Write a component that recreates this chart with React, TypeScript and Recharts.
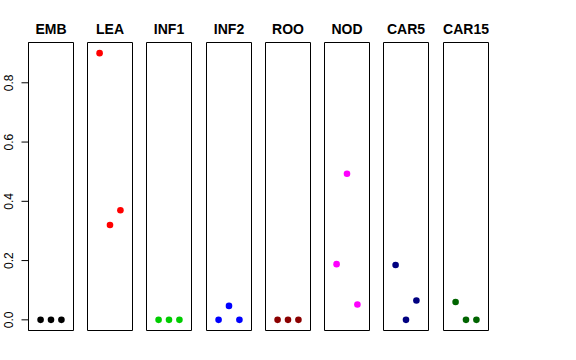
import React from 'react';
import { ScatterChart, Scatter, XAxis, YAxis, ReferenceArea, Label } from 'recharts';

const categories = ['EMB', 'LEA', 'INF1', 'INF2', 'ROO', 'NOD', 'CAR5', 'CAR15'];
const colors = ['#000000', '#FF0000', '#00CD00', '#0000FF', '#8B0000', '#FF00FF', '#000080', '#006400'];
const positions = [1, 2, 3];
const embValues = [0, 0, 0];
const leaValues = [0.9, 0.32, 0.37];
const inf1Values = [0, 0, 0];
const inf2Values = [0, 0.047, 0];
const rooValues = [0, 0, 0];
const nodValues = [0.188, 0.493, 0.052];
const car5Values = [0.185, 0, 0.065];
const car15Values = [0.06, 0, 0];
const allValues = [embValues, leaValues, inf1Values, inf2Values, rooValues, nodValues, car5Values, car15Values];
const yTicks = [0, 0.2, 0.4, 0.6, 0.8];

const X_DOMAIN: [number, number] = [-0.16, 4.16];
const Y_DOMAIN: [number, number] = [-0.036, 0.936];

const PLOT_LEFT = 28.3;
const PITCH = 59.25;
const PANEL_W = 45;
const CHART_H = 340;
const TOP = 42.5;
const BOTTOM = 330.5;
const FONT = '"Liberation Sans", Arial, Helvetica, sans-serif';

const YTick = (props: any) => {
  const { y, payload } = props;
  const x = 13.3;
  return (
    <text
      x={x}
      y={y}
      transform={`rotate(-90, ${x}, ${y})`}
      textAnchor="middle"
      fontSize={12}
      fontFamily={FONT}
      fill="#000"
    >
      {payload.value.toFixed(1)}
    </text>
  );
};

function Panel({ index }: { index: number }) {
  const first = index === 0;
  const data = positions.map((p, j) => ({ x: p, y: allValues[index][j] }));
  const color = colors[index];
  const lineX = Math.floor(PLOT_LEFT + index * PITCH) + 0.5;
  const left = first ? 0 : lineX - 0.5;
  const marginLeft = first ? 0 : 0.5;
  const axisW = lineX;
  const width = first ? axisW + PANEL_W + 0.5 : PANEL_W + 1;
  return (
    <div style={{ position: 'absolute', left, top: 0 }}>
      <ScatterChart
        width={width}
        height={CHART_H}
        margin={{ top: TOP, bottom: CHART_H - BOTTOM, left: marginLeft, right: 0.5 }}
      >
        <XAxis type="number" dataKey="x" domain={X_DOMAIN} hide allowDataOverflow />
        <YAxis
          type="number"
          dataKey="y"
          domain={Y_DOMAIN}
          allowDataOverflow
          hide={!first}
          width={axisW}
          ticks={yTicks}
          tick={<YTick />}
          tickSize={7}
          tickLine={{ stroke: '#000' }}
          axisLine={{ stroke: '#000' }}
        />
        <ReferenceArea
          x1={X_DOMAIN[0]}
          x2={X_DOMAIN[1]}
          y1={Y_DOMAIN[0]}
          y2={Y_DOMAIN[1]}
          fill="none"
          fillOpacity={0}
          stroke="#000"
          strokeWidth={1}
          ifOverflow="visible"
        >
          <Label
            value={categories[index]}
            position="top"
            offset={8.5}
            style={{ fontSize: 14, fontWeight: 'bold', fontFamily: FONT, fill: '#000' }}
          />
        </ReferenceArea>
        <Scatter
          data={data}
          isAnimationActive={false}
          shape={(p: any) => <circle cx={p.cx} cy={p.cy} r={3.3} fill={color} />}
        />
      </ScatterChart>
    </div>
  );
}

export default function App() {
  return (
    <div style={{ position: 'absolute', left: 0, top: 0, width: 576, height: 360, background: '#fff' }}>
      {categories.map((c, i) => (
        <Panel key={c} index={i} />
      ))}
    </div>
  );
}
